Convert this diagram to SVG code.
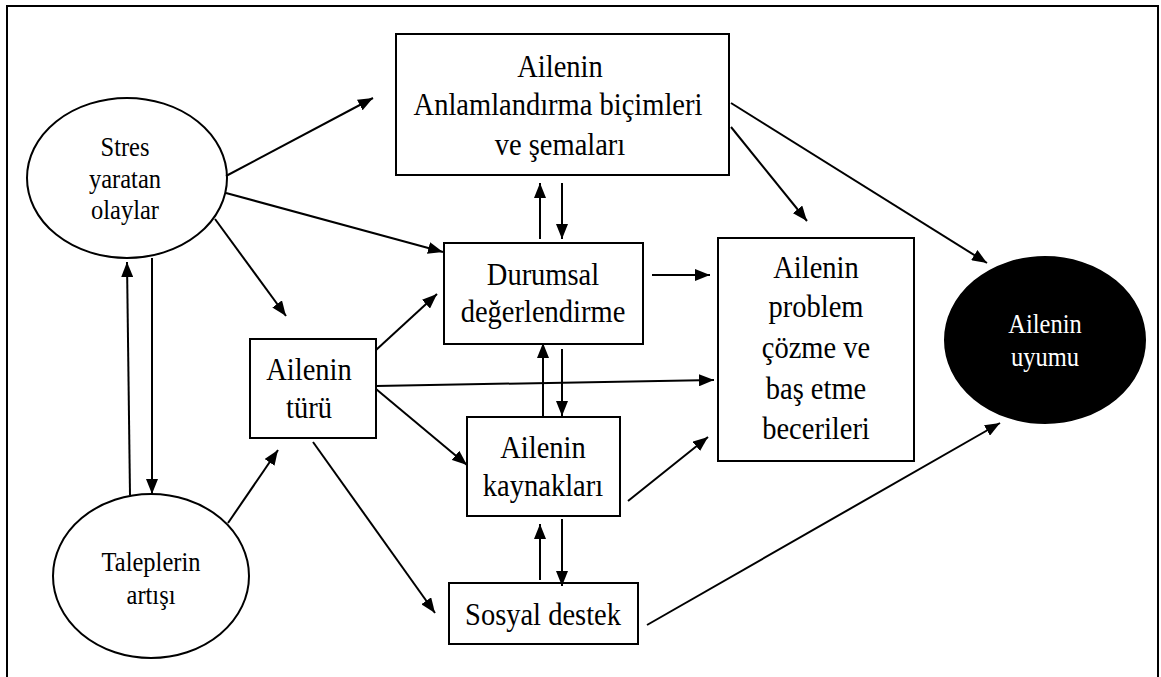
<svg xmlns="http://www.w3.org/2000/svg" width="1161" height="677" viewBox="0 0 1161 677">
<style>
.box{fill:#fff;stroke:#000;stroke-width:2}
.ell{fill:#fff;stroke:#000;stroke-width:2}
.t{font-family:"Liberation Serif","Times New Roman",serif;font-size:28.5px;fill:#000;text-anchor:middle}
.s{font-family:"Liberation Serif","Times New Roman",serif;font-size:24.5px;fill:#000;text-anchor:middle}
.w{fill:#fff}
.c line{stroke:#000;stroke-width:2;marker-end:url(#ah)}
</style>
<defs>
<marker id="ah" markerUnits="userSpaceOnUse" markerWidth="16" markerHeight="12" refX="15" refY="6" orient="auto">
<path d="M0,0 L15,6 L0,12 z" fill="#000"/>
</marker>
</defs>
<rect width="1161" height="677" fill="#fff"/>
<path d="M7,677 V6 H1158 V677" fill="none" stroke="#000" stroke-width="2"/>

<g id="stres">
<ellipse class="ell" cx="127" cy="178" rx="100" ry="80"/>
<text class="s" transform="matrix(1,0,0,1.1,125,156)">Stres</text>
<text class="s" transform="matrix(1,0,0,1.1,125,188)">yaratan</text>
<text class="s" transform="matrix(1,0,0,1.1,125,219)">olaylar</text>
</g>
<g id="talep">
<ellipse class="ell" cx="151" cy="576" rx="98" ry="82"/>
<text class="s" transform="matrix(1,0,0,1.1,151,571)">Taleplerin</text>
<text class="s" transform="matrix(1,0,0,1.1,151,604)">artışı</text>
</g>
<g id="anlam">
<rect class="box" x="396" y="34" width="333" height="141"/>
<text class="t" transform="matrix(1,0,0,1.08,560,77)">Ailenin</text>
<text class="t" transform="matrix(1,0,0,1.08,558,115)">Anlamlandırma biçimleri</text>
<text class="t" transform="matrix(1,0,0,1.08,560,155)">ve şemaları</text>
</g>
<g id="durum">
<rect class="box" x="444" y="243" width="199" height="101"/>
<text class="t" transform="matrix(1,0,0,1.08,543,285)">Durumsal</text>
<text class="t" transform="matrix(1,0,0,1.08,543,322)">değerlendirme</text>
</g>
<g id="tur">
<rect class="box" x="250" y="339" width="126" height="99"/>
<text class="t" transform="matrix(1,0,0,1.08,309,380)">Ailenin</text>
<text class="t" transform="matrix(1,0,0,1.08,309,418)">türü</text>
</g>
<g id="kaynak">
<rect class="box" x="467" y="417" width="153" height="99"/>
<text class="t" transform="matrix(1,0,0,1.08,543,458)">Ailenin</text>
<text class="t" transform="matrix(1,0,0,1.08,543,496)">kaynakları</text>
</g>
<g id="sosyal">
<rect class="box" x="449" y="583" width="189" height="61"/>
<text class="t" transform="matrix(1,0,0,1.08,543,625)">Sosyal destek</text>
</g>
<g id="problem">
<rect class="box" x="718" y="238" width="196" height="223"/>
<text class="t" transform="matrix(1,0,0,1.08,816,278)">Ailenin</text>
<text class="t" transform="matrix(1,0,0,1.08,816,317)">problem</text>
<text class="t" transform="matrix(1,0,0,1.08,816,358)">çözme ve</text>
<text class="t" transform="matrix(1,0,0,1.08,816,399)">baş etme</text>
<text class="t" transform="matrix(1,0,0,1.08,816,439)">becerileri</text>
</g>
<g id="uyum">
<ellipse cx="1045" cy="340" rx="100" ry="83" fill="#000" stroke="#000" stroke-width="2"/>
<text class="s w" transform="matrix(1,0,0,1.1,1045,333)">Ailenin</text>
<text class="s w" transform="matrix(1,0,0,1.1,1045,366)">uyumu</text>
</g>

<g class="c" id="connectors">
<line x1="226" y1="176" x2="373" y2="98"/>
<line x1="226" y1="193" x2="443" y2="252"/>
<line x1="215" y1="219" x2="286" y2="316"/>
<line x1="130" y1="495" x2="127" y2="262"/>
<line x1="152" y1="258" x2="152" y2="494"/>
<line x1="228" y1="523" x2="278" y2="450"/>
<line x1="540" y1="239" x2="540" y2="183"/>
<line x1="562" y1="183" x2="562" y2="239"/>
<line x1="652" y1="275" x2="710" y2="275"/>
<line x1="731" y1="127" x2="807" y2="221"/>
<line x1="731" y1="103" x2="987" y2="263"/>
<line x1="376" y1="350" x2="437" y2="294"/>
<line x1="376" y1="386" x2="714" y2="380"/>
<line x1="376" y1="389" x2="467" y2="465"/>
<line x1="313" y1="442" x2="435" y2="613"/>
<line x1="543" y1="417" x2="543" y2="343"/>
<line x1="562" y1="349" x2="562" y2="416"/>
<line x1="628" y1="501" x2="708" y2="437"/>
<line x1="540" y1="580" x2="540" y2="524"/>
<line x1="562" y1="519" x2="562" y2="586"/>
<line x1="647" y1="625" x2="1000" y2="423"/>
</g>
</svg>
